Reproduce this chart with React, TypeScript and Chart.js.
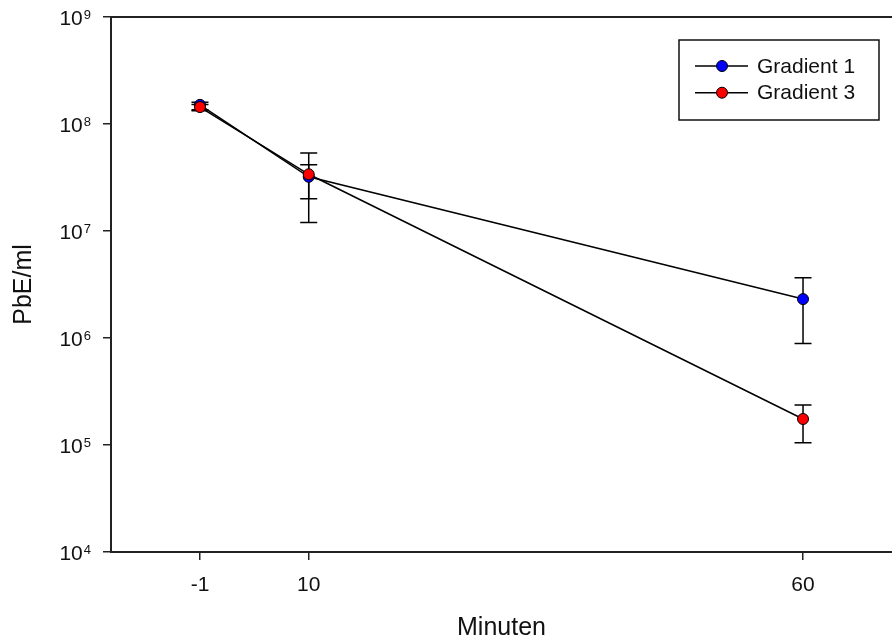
import React, { useEffect, useRef } from 'react';
import { Chart, registerables } from 'chart.js';

Chart.register(...registerables);

const minutes = [-1, 10, 60];
const seriesNames = ['Gradient 1', 'Gradient 3'];
const seriesColors = ['#0000ff', '#ff0000'];
const gradient1 = [1.51e8, 3.21e7, 2.31e6];
const gradient1High = [1.6e8, 5.36e7, 3.66e6];
const gradient1Low = [1.33e8, 1.2e7, 8.9e5];
const gradient3 = [1.44e8, 3.39e7, 1.75e5];
const gradient3High = [1.52e8, 4.17e7, 2.37e5];
const gradient3Low = [1.36e8, 2.0e7, 1.05e5];
const yTickExponents = [4, 5, 6, 7, 8, 9];
const xTickValues = [-1, 10, 60];

const FONT = '"Liberation Sans", Arial, Helvetica, sans-serif';
const AXIS = '#222';

const highs = [gradient1High, gradient3High];
const lows = [gradient1Low, gradient3Low];

const errorBarPlugin = {
  id: 'errorBars',
  beforeDatasetsDraw(chart: any) {
    const { ctx, scales } = chart;
    const xs = scales.x;
    const ys = scales.y;
    ctx.save();
    ctx.strokeStyle = '#000';
    ctx.lineWidth = 1.5;
    [1, 0].forEach((d) => {
      minutes.forEach((m, i) => {
        const px = xs.getPixelForValue(m);
        const yh = ys.getPixelForValue(highs[d][i]);
        const yl = ys.getPixelForValue(lows[d][i]);
        ctx.beginPath();
        ctx.moveTo(px, yh);
        ctx.lineTo(px, yl);
        ctx.moveTo(px - 8.5, yh);
        ctx.lineTo(px + 8.5, yh);
        ctx.moveTo(px - 8.5, yl);
        ctx.lineTo(px + 8.5, yl);
        ctx.stroke();
      });
    });
    ctx.restore();
  },
};

const decorPlugin = {
  id: 'decor',
  afterDraw(chart: any) {
    const { ctx, chartArea, scales } = chart;
    ctx.save();
    // top frame line
    ctx.strokeStyle = AXIS;
    ctx.lineWidth = 2;
    ctx.beginPath();
    ctx.moveTo(chartArea.left - 1, chartArea.top);
    ctx.lineTo(chartArea.right + 2, chartArea.top);
    ctx.stroke();

    // y tick labels with superscript exponents
    ctx.fillStyle = '#111';
    const rightEdge = chartArea.left - 20;
    yTickExponents.forEach((e) => {
      const y = scales.y.getPixelForValue(Math.pow(10, e));
      ctx.font = `13px ${FONT}`;
      const expStr = String(e);
      const expW = ctx.measureText(expStr).width;
      ctx.font = `21px ${FONT}`;
      const tenW = ctx.measureText('10').width;
      const x10 = rightEdge - expW - 1 - tenW;
      ctx.textAlign = 'left';
      ctx.textBaseline = 'alphabetic';
      ctx.fillText('10', x10, y + 7.5);
      ctx.font = `13px ${FONT}`;
      ctx.fillText(expStr, x10 + tenW + 1, y + 1.5);
    });

    // legend
    const bx = 679, by = 40, bw = 200, bh = 80;
    ctx.strokeStyle = '#111';
    ctx.lineWidth = 1.5;
    ctx.strokeRect(bx, by, bw, bh);
    seriesNames.forEach((name, i) => {
      const cy = 66 + i * 26.7;
      ctx.strokeStyle = '#000';
      ctx.lineWidth = 1.5;
      ctx.beginPath();
      ctx.moveTo(695, cy);
      ctx.lineTo(748, cy);
      ctx.stroke();
      ctx.beginPath();
      ctx.arc(722, cy, 5.5, 0, Math.PI * 2);
      ctx.fillStyle = seriesColors[i];
      ctx.fill();
      ctx.lineWidth = 1;
      ctx.stroke();
      ctx.fillStyle = '#111';
      ctx.font = `21px ${FONT}`;
      ctx.textAlign = 'left';
      ctx.textBaseline = 'middle';
      ctx.fillText(name, 757, cy + 1);
    });
    ctx.restore();
  },
};

export default function App() {
  const ref = useRef<HTMLCanvasElement | null>(null);
  useEffect(() => {
    if (!ref.current) return;
    const makeDs = (idx: number, vals: number[], order: number) => ({
      label: seriesNames[idx],
      data: minutes.map((m, i) => ({ x: m, y: vals[i] })),
      borderColor: '#000',
      borderWidth: 1.5,
      pointRadius: 5.5,
      pointHoverRadius: 5.5,
      pointBackgroundColor: seriesColors[idx],
      pointBorderColor: '#000',
      pointBorderWidth: 1,
      fill: false,
      tension: 0,
      clip: false,
      order,
    });
    const chart = new Chart(ref.current, {
      type: 'line',
      data: {
        datasets: [makeDs(0, gradient1, 1), makeDs(1, gradient3, 0)],
      },
      plugins: [errorBarPlugin, decorPlugin],
      options: {
        responsive: false,
        animation: false,
        devicePixelRatio: 1,
        layout: { autoPadding: false, padding: { top: 17, right: 0, left: 0, bottom: 0 } },
        plugins: { legend: { display: false }, tooltip: { enabled: false } },
        scales: {
          x: {
            type: 'linear',
            min: -10,
            max: 69,
            afterBuildTicks: (s: any) => {
              s.ticks = xTickValues.map((v) => ({ value: v }));
            },
            afterFit: (s: any) => {
              s.height = 90;
              s.paddingLeft = 0;
              s.paddingRight = 0;
            },
            ticks: {
              color: '#111',
              font: { family: FONT, size: 21 },
              padding: 13,
              maxRotation: 0,
              autoSkip: false,
              callback: (v: any) => String(v),
            },
            grid: {
              drawOnChartArea: false,
              drawTicks: true,
              tickLength: 8,
              color: AXIS,
              lineWidth: 1.5,
            },
            border: { display: true, color: AXIS, width: 2 },
            title: {
              display: true,
              text: 'Minuten',
              color: '#111',
              font: { family: FONT, size: 25, lineHeight: 1.1 },
              padding: { top: 0, bottom: 0 },
            },
          },
          y: {
            type: 'logarithmic',
            min: 1e4,
            max: 1e9,
            afterBuildTicks: (s: any) => {
              s.ticks = yTickExponents.map((e) => ({ value: Math.pow(10, e) }));
            },
            afterFit: (s: any) => {
              s.width = 111;
            },
            ticks: { display: false },
            grid: {
              drawOnChartArea: false,
              drawTicks: true,
              tickLength: 8,
              color: AXIS,
              lineWidth: 1.5,
            },
            border: { display: true, color: AXIS, width: 2 },
            title: {
              display: true,
              text: 'PbE/ml',
              color: '#111',
              font: { family: FONT, size: 25 },
              padding: { top: 9, bottom: 0 },
            },
          },
        },
      },
    });
    return () => chart.destroy();
  }, []);
  return (
    <div style={{ position: 'fixed', left: 0, top: 0, width: 892, height: 642, background: '#fff' }}>
      <canvas ref={ref} width={892} height={642} style={{ display: 'block', width: 892, height: 642 }} />
    </div>
  );
}
